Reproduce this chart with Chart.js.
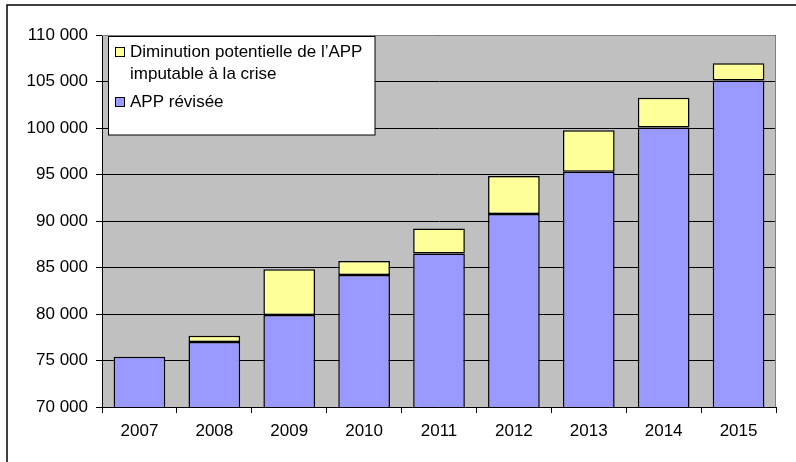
<!DOCTYPE html>
<html>
<head>
<meta charset="utf-8">
<script src="https://cdn.jsdelivr.net/npm/chart.js@4/dist/chart.umd.min.js"></script>
<style>
html,body{margin:0;padding:0;background:#fff;}
#wrap{position:relative;width:796px;height:462px;}
</style>
</head>
<body>
<div id="wrap"><canvas id="c" width="796" height="462"></canvas></div>
<script>
const categories = ['2007','2008','2009','2010','2011','2012','2013','2014','2015'];
const appRevisee = [75400, 77000, 79900, 84200, 86500, 90750, 95300, 100050, 105100];
const diminution = [null, 650, 4900, 1500, 2700, 4100, 4450, 3200, 1850];
const seriesNames = ['APP révisée', 'Diminution potentielle de l\u2019APP imputable à la crise'];
const legendLines = [['Diminution potentielle de l\u2019APP', 'imputable à la crise'], ['APP révisée']];
const yMin = 70000, yMax = 110000, yStep = 5000;

const FONT = 'Liberation Sans, Arial, sans-serif';
const BLUE = '#9999FF', YELLOW = '#FFFF99';

function fmt(v){ return String(v).replace(/\B(?=(\d{3})+(?!\d))/g, ' '); }

const decor = {
  id: 'decor',
  beforeDraw(chart){
    const {ctx, chartArea:a} = chart;
    ctx.save();
    ctx.fillStyle = '#fff';
    ctx.fillRect(0,0,chart.width,chart.height);
    ctx.fillStyle = '#C0C0C0';
    ctx.fillRect(a.left, a.top, a.right-a.left, a.bottom-a.top);
    ctx.strokeStyle = '#000';
    ctx.lineWidth = 1.5;
    ctx.beginPath();
    ctx.moveTo(7, chart.height);
    ctx.lineTo(7, 5);
    ctx.lineTo(chart.width, 5);
    ctx.stroke();
    ctx.restore();
  },
  afterDraw(chart){
    const {ctx, chartArea:a} = chart;
    ctx.save();
    ctx.strokeStyle = '#808080';
    ctx.lineWidth = 1;
    ctx.beginPath();
    ctx.moveTo(a.left, a.top + 0.5);
    ctx.lineTo(a.right - 0.5, a.top + 0.5);
    ctx.lineTo(a.right - 0.5, a.bottom);
    ctx.stroke();
    const bx = 108.5, by = 36.5, bw = 266.5, bh = 98.5;
    ctx.fillStyle = '#fff';
    ctx.fillRect(bx, by, bw, bh);
    ctx.strokeStyle = '#000';
    ctx.lineWidth = 1;
    ctx.strokeRect(bx, by, bw, bh);
    const colors = [YELLOW, BLUE];
    const sqY = [47.5, 97.5];
    const lineY = [[52, 74], [102]];
    ctx.font = '17px ' + FONT;
    ctx.textBaseline = 'middle';
    ctx.textAlign = 'left';
    for (let i = 0; i < 2; i++){
      ctx.fillStyle = colors[i];
      ctx.fillRect(115.5, sqY[i], 9, 9);
      ctx.strokeStyle = '#000';
      ctx.strokeRect(115.5, sqY[i], 9, 9);
      ctx.fillStyle = '#000';
      legendLines[i].forEach((t, j) => ctx.fillText(t, 130, lineY[i][j]));
    }
    ctx.restore();
  }
};

new Chart(document.getElementById('c'), {
  type: 'bar',
  data: {
    labels: categories,
    datasets: [
      { label: seriesNames[0], data: appRevisee, backgroundColor: BLUE, borderColor: '#000', borderWidth: 1.5, borderSkipped: false },
      { label: seriesNames[1], data: diminution, backgroundColor: YELLOW, borderColor: '#000', borderWidth: 1.5, borderSkipped: false }
    ]
  },
  options: {
    responsive: false,
    animation: false,
    devicePixelRatio: 1,
    layout: { padding: { top: 35, right: 20, left: 0, bottom: 0 } },
    datasets: { bar: { barPercentage: 0.69, categoryPercentage: 1 } },
    plugins: { legend: { display: false }, tooltip: { enabled: false } },
    scales: {
      x: {
        stacked: true,
        offset: true,
        afterFit(s){ s.height = 55; },
        grid: { offset: true, drawOnChartArea: false, drawTicks: true, tickLength: 6, color: '#000', lineWidth: 1 },
        border: { display: true, color: '#000', width: 1 },
        ticks: { color: '#000', font: { family: FONT, size: 17 }, padding: 8, maxRotation: 0 }
      },
      y: {
        stacked: true,
        min: yMin, max: yMax,
        afterFit(s){ s.width = 102; },
        grid: { color: '#000', lineWidth: 1, tickLength: 6, drawTicks: true },
        border: { display: true, color: '#000', width: 1 },
        ticks: { stepSize: yStep, color: '#000', font: { family: FONT, size: 17 }, padding: 8, callback: v => fmt(v) }
      }
    }
  },
  plugins: [decor]
});
</script>
</body>
</html>
